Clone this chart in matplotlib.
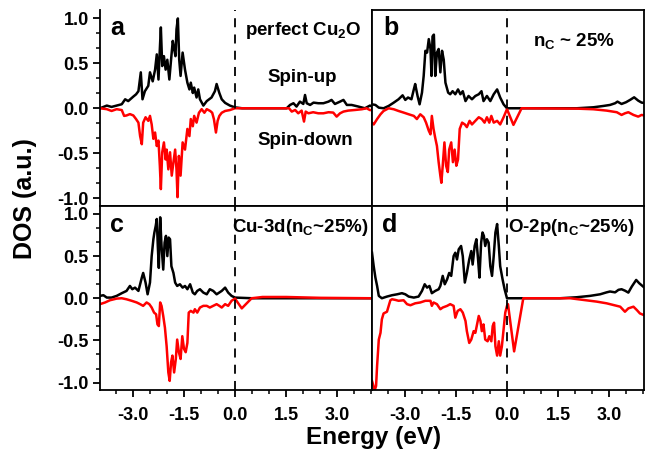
import matplotlib
matplotlib.use("Agg")
import matplotlib.pyplot as plt
from matplotlib.ticker import MultipleLocator, FormatStrFormatter

plt.rcParams["font.family"] = ["Liberation Sans", "DejaVu Sans"]
plt.rcParams["font.weight"] = "bold"
plt.rcParams["axes.unicode_minus"] = False
plt.rcParams["mathtext.fontset"] = "custom"
plt.rcParams["mathtext.rm"] = "Liberation Sans:bold"
plt.rcParams["mathtext.bf"] = "Liberation Sans:bold"
plt.rcParams["mathtext.default"] = "bf"

# panel a: perfect Cu2O
a_up_e = [-3.98, -3.78, -3.64, -3.49, -3.34, -3.24, -3.15, -3.00, -2.92, -2.85, -2.78, -2.73,
          -2.66, -2.56, -2.51, -2.43, -2.36, -2.31, -2.26, -2.22, -2.19, -2.15, -2.10, -2.05,
          -2.00, -1.94, -1.89, -1.84, -1.80, -1.76, -1.73, -1.69, -1.65, -1.61, -1.55, -1.48,
          -1.41, -1.35, -1.31, -1.25, -1.21, -1.14, -1.09, -1.04, -0.94, -0.84, -0.70, -0.60,
          -0.55, -0.47, -0.40, -0.30, -0.16, -0.01, 0.20, 1.51, 1.61, 1.71, 1.80, 1.90, 2.00,
          2.05, 2.10, 2.20, 2.30, 2.44, 2.59, 2.74, 2.83, 2.93, 3.08, 3.18, 3.28, 3.42, 3.62,
          3.81, 3.96, 4.02]
a_up = [0.00, 0.03, 0.015, 0.03, 0.045, 0.10, 0.08, 0.13, 0.155, 0.19, 0.40, 0.10,
        0.19, 0.25, 0.40, 0.30, 0.43, 0.60, 0.32, 0.66, 0.90, 0.47, 0.58, 0.43,
        0.54, 0.32, 0.54, 0.75, 0.66, 0.58, 0.88, 1.00, 0.54, 0.36, 0.62, 0.43,
        0.285, 0.21, 0.285, 0.17, 0.23, 0.12, 0.21, 0.10, 0.03, 0.08, 0.12, 0.19,
        0.27, 0.17, 0.10, 0.06, 0.03, 0.01, 0.0, 0.0, 0.037, 0.056, 0.019, 0.074, 0.048,
        0.148, 0.056, 0.037, 0.063, 0.056, 0.056, 0.074, 0.093, 0.048, 0.074, 0.093, 0.037,
        0.037, 0.019, 0.0, 0.03, 0.02]
a_dn_e = [-3.98, -3.78, -3.64, -3.49, -3.34, -3.27, -3.20, -3.10, -3.00, -2.92, -2.85, -2.80,
          -2.75, -2.71, -2.64, -2.56, -2.51, -2.46, -2.41, -2.36, -2.31, -2.26, -2.22, -2.19,
          -2.15, -2.10, -2.05, -2.02, -1.97, -1.92, -1.87, -1.82, -1.77, -1.73, -1.70, -1.66,
          -1.61, -1.55, -1.48, -1.41, -1.35, -1.31, -1.25, -1.21, -1.14, -1.07, -0.99, -0.91,
          -0.84, -0.74, -0.68, -0.63, -0.57, -0.52, -0.47, -0.40, -0.30, -0.16, -0.01, 0.50,
          1.58, 1.66, 1.76, 1.85, 1.95, 2.02, 2.07, 2.15, 2.29, 2.44, 2.59, 2.74, 2.88, 2.98,
          3.08, 3.18, 3.32, 3.52, 3.72, 3.86, 3.96, 4.02]
a_dn = [0.0, -0.01, -0.03, -0.01, -0.02, -0.085, -0.08, -0.065, -0.08, -0.12, -0.16, -0.31,
        -0.40, -0.16, -0.10, -0.14, -0.085, -0.18, -0.34, -0.27, -0.42, -0.36, -0.64, -0.90,
        -0.49, -0.38, -0.57, -0.46, -0.68, -0.49, -0.75, -0.60, -0.46, -0.68, -0.99, -0.53,
        -0.75, -0.38, -0.46, -0.23, -0.31, -0.12, -0.20, -0.085, -0.16, -0.05, -0.01, -0.05,
        -0.01, -0.03, -0.05, -0.12, -0.27, -0.14, -0.085, -0.05, -0.03, -0.02, 0.0, 0.0,
        0.0, -0.037, -0.019, -0.056, -0.026, -0.148, -0.037, -0.056, -0.044, -0.056, -0.056,
        -0.044, -0.048, -0.093, -0.056, -0.037, -0.026, -0.019, -0.011, 0.0, -0.02, -0.02]

# panel b: n_C ~ 25 %
b_up_e = [-3.98, -3.88, -3.78, -3.64, -3.49, -3.34, -3.20, -3.08, -3.00, -2.92, -2.82, -2.75,
          -2.71, -2.64, -2.58, -2.51, -2.46, -2.41, -2.36, -2.31, -2.26, -2.23, -2.20, -2.16,
          -2.12, -2.07, -2.02, -1.97, -1.92, -1.87, -1.82, -1.74, -1.68, -1.61, -1.53, -1.45,
          -1.38, -1.31, -1.23, -1.14, -1.04, -0.94, -0.84, -0.76, -0.70, -0.60, -0.50, -0.40,
          -0.30, -0.21, -0.11, -0.01, 2.04, 2.53, 2.83, 3.02, 3.17, 3.24, 3.36, 3.49, 3.61,
          3.73, 3.85, 3.95, 4.02]
b_up = [0.044, 0.037, 0.007, 0.0, 0.026, 0.063, 0.10, 0.144, 0.093, 0.12, 0.10, 0.21,
        0.27, 0.137, 0.044, 0.174, 0.36, 0.64, 0.62, 0.77, 0.66, 0.36, 0.80, 0.82,
        0.36, 0.62, 0.66, 0.40, 0.64, 0.54, 0.285, 0.174, 0.156, 0.19, 0.156, 0.21,
        0.156, 0.19, 0.08, 0.137, 0.10, 0.137, 0.156, 0.19, 0.08, 0.137, 0.08, 0.156,
        0.21, 0.12, 0.044, 0.0, 0.0, 0.011, 0.026, 0.037, 0.056, 0.074, 0.048, 0.067, 0.093,
        0.122, 0.085, 0.063, 0.06]
b_dn_e = [-3.98, -3.93, -3.83, -3.73, -3.64, -3.49, -3.34, -3.20, -3.05, -2.90, -2.75, -2.66,
          -2.56, -2.46, -2.39, -2.31, -2.26, -2.22, -2.17, -2.12, -2.07, -2.02, -1.97, -1.94,
          -1.90, -1.85, -1.80, -1.75, -1.71, -1.65, -1.60, -1.55, -1.50, -1.45, -1.40, -1.33,
          -1.25, -1.19, -1.11, -1.04, -0.94, -0.84, -0.75, -0.67, -0.60, -0.53, -0.47, -0.40,
          -0.30, -0.21, -0.11, -0.01, 0.18, 0.42, 2.04, 2.53, 2.92, 3.22, 3.36, 3.46, 3.56,
          3.71, 3.85, 3.95, 4.02]
b_dn = [-0.16, -0.18, -0.12, -0.067, -0.03, 0.0, -0.011, -0.03, -0.048, -0.067, -0.085, -0.12,
        -0.067, -0.10, -0.16, -0.25, -0.29, -0.085, -0.23, -0.33, -0.42, -0.60, -0.75, -0.83,
        -0.64, -0.38, -0.64, -0.71, -0.46, -0.38, -0.60, -0.46, -0.64, -0.57, -0.23, -0.16,
        -0.18, -0.21, -0.14, -0.18, -0.14, -0.10, -0.12, -0.16, -0.10, -0.16, -0.085, -0.16,
        -0.14, -0.18, -0.10, -0.01, -0.185, 0.0, -0.004, -0.011, -0.026, -0.044, -0.074,
        -0.056, -0.044, -0.074, -0.093, -0.074, -0.08]

# panel c: Cu-3d
c_up_e = [-3.98, -3.88, -3.78, -3.64, -3.49, -3.34, -3.20, -3.10, -3.03, -2.95, -2.85, -2.75,
          -2.71, -2.64, -2.58, -2.51, -2.46, -2.41, -2.38, -2.34, -2.31, -2.28, -2.25, -2.21,
          -2.17, -2.12, -2.08, -2.04, -2.00, -1.96, -1.92, -1.88, -1.82, -1.77, -1.71, -1.63,
          -1.55, -1.48, -1.41, -1.33, -1.25, -1.19, -1.12, -1.04, -0.94, -0.84, -0.75, -0.65,
          -0.55, -0.40, -0.30, -0.21, -0.11, -0.01, 0.50, 4.02]
c_up = [0.028, 0.036, 0.008, 0.008, 0.028, 0.06, 0.087, 0.146, 0.107, 0.126, 0.087, 0.245,
        0.30, 0.186, 0.047, 0.186, 0.50, 0.70, 0.78, 0.86, 0.94, 0.62, 0.36, 0.96,
        0.62, 0.34, 0.66, 0.74, 0.50, 0.72, 0.70, 0.38, 0.30, 0.186, 0.146, 0.166,
        0.126, 0.146, 0.107, 0.166, 0.067, 0.047, 0.087, 0.107, 0.067, 0.047, 0.107, 0.087,
        0.047, 0.087, 0.126, 0.067, 0.028, 0.008, 0.0, 0.0]
c_dn_e = [-3.98, -3.83, -3.69, -3.49, -3.34, -3.20, -3.05, -2.90, -2.80, -2.71, -2.61, -2.53,
          -2.46, -2.39, -2.33, -2.29, -2.25, -2.21, -2.17, -2.12, -2.07, -2.02, -1.97, -1.93,
          -1.89, -1.85, -1.80, -1.75, -1.71, -1.66, -1.61, -1.56, -1.51, -1.46, -1.41, -1.37,
          -1.31, -1.23, -1.19, -1.12, -1.04, -0.94, -0.84, -0.75, -0.65, -0.55, -0.47, -0.40,
          -0.30, -0.21, -0.11, -0.01, 0.19, 0.48, 0.80, 1.50, 2.50, 4.02]
c_dn = [-0.07, -0.05, -0.024, -0.004, 0.0, -0.012, -0.03, -0.05, -0.07, -0.09, -0.05, -0.07,
        -0.11, -0.17, -0.19, -0.31, -0.33, -0.05, -0.09, -0.21, -0.35, -0.57, -0.88, -0.98,
        -0.76, -0.68, -0.88, -0.72, -0.49, -0.64, -0.72, -0.45, -0.60, -0.64, -0.53, -0.17,
        -0.15, -0.17, -0.13, -0.17, -0.11, -0.09, -0.09, -0.11, -0.09, -0.07, -0.09, -0.11,
        -0.07, -0.09, -0.03, -0.004, -0.12, 0.0, 0.015, 0.015, 0.005, 0.0]

# panel d: O-2p
d_up_e = [-3.98, -3.93, -3.88, -3.83, -3.78, -3.69, -3.54, -3.39, -3.24, -3.10, -3.00, -2.90,
          -2.75, -2.61, -2.51, -2.43, -2.36, -2.29, -2.22, -2.12, -2.02, -1.97, -1.90, -1.84,
          -1.77, -1.71, -1.65, -1.58, -1.53, -1.48, -1.43, -1.36, -1.31, -1.25, -1.19, -1.12,
          -1.06, -1.02, -0.96, -0.91, -0.86, -0.82, -0.77, -0.73, -0.69, -0.65, -0.60, -0.55,
          -0.50, -0.45, -0.40, -0.35, -0.30, -0.25, -0.21, -0.14, -0.08, -0.01, 1.55, 2.04,
          2.43, 2.73, 2.92, 3.02, 3.17, 3.27, 3.36, 3.46, 3.56, 3.66, 3.79, 3.88, 4.02]
d_up = [0.54, 0.38, 0.245, 0.146, 0.028, 0.0, 0.02, 0.036, 0.047, 0.06, 0.047, 0.02,
        0.008, 0.02, 0.087, 0.166, 0.126, 0.146, 0.06, 0.087, 0.107, 0.146, 0.265, 0.166,
        0.225, 0.30, 0.265, 0.50, 0.54, 0.46, 0.58, 0.62, 0.50, 0.186, 0.30, 0.46,
        0.56, 0.40, 0.62, 0.70, 0.46, 0.245, 0.66, 0.78, 0.74, 0.62, 0.70, 0.66,
        0.38, 0.265, 0.50, 0.78, 0.88, 0.62, 0.38, 0.225, 0.107, 0.0, 0.0, 0.012,
        0.028, 0.047, 0.07, 0.08, 0.07, 0.10, 0.107, 0.09, 0.067, 0.138, 0.217, 0.178, 0.13]
d_dn_e = [-3.98, -3.90, -3.86, -3.83, -3.78, -3.73, -3.69, -3.64, -3.54, -3.44, -3.39, -3.29,
          -3.20, -3.05, -2.95, -2.85, -2.71, -2.56, -2.41, -2.26, -2.22, -2.17, -2.07, -1.97,
          -1.90, -1.77, -1.68, -1.58, -1.53, -1.46, -1.38, -1.31, -1.23, -1.19, -1.12, -1.06,
          -0.99, -0.94, -0.89, -0.84, -0.79, -0.75, -0.70, -0.65, -0.58, -0.53, -0.47, -0.43,
          -0.39, -0.35, -0.30, -0.25, -0.21, -0.16, -0.11, -0.06, -0.01, 0.02, 0.20, 0.47,
          1.85, 2.24, 2.63, 2.92, 3.12, 3.32, 3.46, 3.56, 3.71, 3.81, 3.90, 4.02]
d_dn = [-0.98, -1.09, -1.04, -0.80, -0.49, -0.41, -0.25, -0.18, -0.16, -0.024, -0.012, -0.02,
        -0.03, -0.024, -0.07, -0.083, -0.06, -0.05, -0.03, -0.03, -0.09, -0.05, -0.07, -0.13,
        -0.11, -0.09, -0.07, -0.09, -0.23, -0.15, -0.13, -0.17, -0.27, -0.39, -0.53, -0.49,
        -0.39, -0.41, -0.31, -0.21, -0.27, -0.39, -0.31, -0.49, -0.51, -0.45, -0.51, -0.33,
        -0.29, -0.57, -0.68, -0.51, -0.68, -0.57, -0.37, -0.17, -0.09, -0.07, -0.63, 0.0,
        0.0, -0.02, -0.04, -0.06, -0.08, -0.10, -0.16, -0.12, -0.10, -0.14, -0.18, -0.20]

panels = [
    ("a", a_up_e, a_up, a_dn_e, a_dn),
    ("b", b_up_e, b_up, b_dn_e, b_dn),
    ("c", c_up_e, c_up, c_dn_e, c_dn),
    ("d", d_up_e, d_up, d_dn_e, d_dn),
]

W, H = 651, 461
fig = plt.figure(figsize=(W / 100, H / 100), dpi=100)


def px_rect(x0, y0, x1, y1):
    return [x0 / W, 1 - y1 / H, (x1 - x0) / W, (y1 - y0) / H]


rects = {
    "a": px_rect(100, 10, 372, 206),
    "b": px_rect(372, 10, 644, 206),
    "c": px_rect(100, 206, 372, 390),
    "d": px_rect(372, 206, 644, 390),
}

axes = {}
for name, ue, up, de, dn in panels:
    ax = fig.add_axes(rects[name])
    ax.plot(ue, up, color="black", lw=1.8)
    ax.plot(de, dn, color="#ff0000", lw=1.8)
    ax.axvline(0, color="black", lw=1.3, ls=(0, (5, 4)))
    ax.set_xlim(-3.98, 4.02)
    ax.set_ylim(-1.088, 1.094)
    for sp in ax.spines.values():
        sp.set_linewidth(1.3)
    ax.xaxis.set_major_locator(MultipleLocator(1.5))
    ax.xaxis.set_minor_locator(MultipleLocator(0.5))
    ax.yaxis.set_major_locator(MultipleLocator(0.5))
    ax.yaxis.set_minor_locator(MultipleLocator(0.5 / 3))
    ax.xaxis.set_major_formatter(FormatStrFormatter("%.1f"))
    ax.yaxis.set_major_formatter(FormatStrFormatter("%.1f"))
    ax.tick_params(which="major", direction="out", length=5, width=1.3, labelsize=13)
    ax.tick_params(which="minor", direction="out", length=3, width=1.1)
    ax.tick_params(axis="x", pad=7)
    ax.tick_params(axis="y", pad=3)
    if name in ("a", "b"):
        ax.tick_params(axis="x", which="both", bottom=False, labelbottom=False)
    if name in ("b", "d"):
        ax.tick_params(axis="y", which="both", left=False, labelleft=False)
    axes[name] = ax

axes["a"].spines["top"].set_visible(False)


def ftext(x, y, s, **kw):
    fig.text(x / W, 1 - y / H, s, fontweight="bold", **kw)


ftext(110, 35, "a", fontsize=18, va="baseline")
ftext(383, 35, "b", fontsize=18, va="baseline")
ftext(110, 232, "c", fontsize=18, va="baseline")
ftext(382, 232, "d", fontsize=18, va="baseline")

ftext(303, 35, "perfect Cu$_2$O", fontsize=13.5, ha="center", va="baseline")
ftext(302, 82, "Spin-up", fontsize=13.5, ha="center", va="baseline")
ftext(305, 145, "Spin-down", fontsize=13.5, ha="center", va="baseline")
ftext(574, 46, "n$_C$ ~ 25%", fontsize=13.5, ha="center", va="baseline")
ftext(232, 232, "Cu-3d(n$_C$~25%)", fontsize=13.5, ha="left", va="baseline")
ftext(508, 232, "O-2p(n$_C$~25%)", fontsize=13.5, ha="left", va="baseline")

ftext(25, 199, "DOS (a.u.)", fontsize=18, rotation=90, ha="center", va="center")
ftext(374, 437, "Energy (eV)", fontsize=17.5, ha="center", va="center")

fig.savefig("out.png", dpi=100)
